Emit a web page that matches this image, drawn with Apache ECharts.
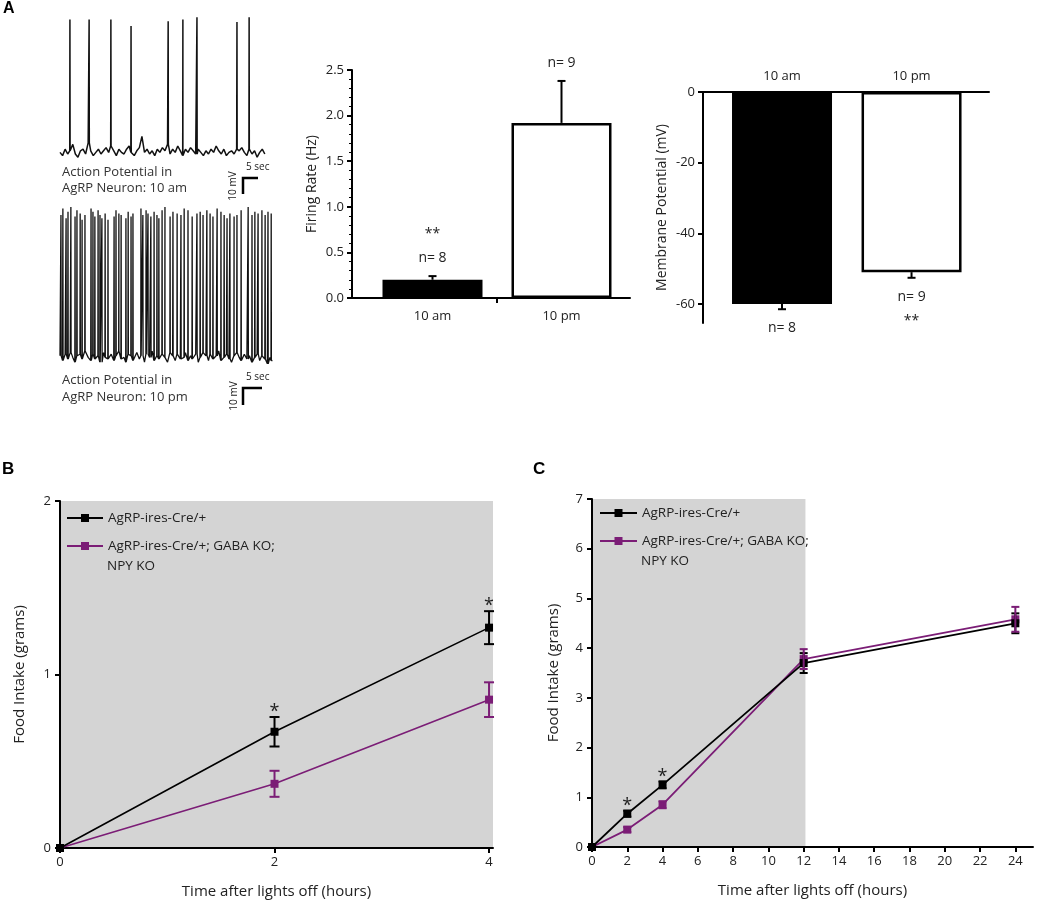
<!DOCTYPE html>
<html><head><meta charset="utf-8">
<script src="https://cdn.jsdelivr.net/npm/echarts@6/dist/echarts.min.js"></script>
<style>html,body{margin:0;padding:0;background:#fff}#c{width:1050px;height:904px}</style>
</head><body><div id="c"></div>
<script>
// ---------- DATA ----------
// Panel A traces (time in s, membrane potential in mV)
const traceStep = 0.8;
const topBase = [
-59,-61,-57,-60,-58,-54,-60,-62,-58,-57,
-60,-53,-58,-61,-59,-57,-60,-58,-56,-59,
-55,-58,-61,-57,-59,-60,-57,-55,-59,-61,
-58,-56,-49,-59,-57,-60,-58,-61,-57,-59,
-56,-58,-54,-60,-57,-59,-55,-58,-61,-57,
-59,-56,-58,-60,-57,-59,-61,-58,-60,-57,
-59,-55,-58,-60,-57,-61,-59,-58,-60,-57,
-58,-56,-59,-61,-57,-60,-58,-62,-59,-57,
-60];
const topSpikeT = [3.1, 9.1, 15.9, 22.2, 33.8, 38.4, 42.8, 55.3, 59.1];
const topSpikePk = [24, 24, 24, 20, 23, 24, 25.5, 22.5, 25.5];
const botBase = [
-58,-61,-57,-60,-56,-59,-62,-58,-57,-60,
-55,-59,-61,-57,-60,-58,-62,-56,-59,-60,
-57,-61,-58,-55,-60,-59,-62,-57,-58,-61,
-56,-60,-58,-62,-57,-59,-55,-61,-58,-60,
-57,-59,-62,-56,-58,-61,-57,-60,-59,-56,
-61,-58,-60,-57,-62,-59,-56,-58,-61,-57,
-60,-58,-55,-61,-59,-57,-60,-62,-58,-56,
-59,-61,-57,-60,-58,-62,-59,-57,-61,-58,
-60,-63,-59,-61];
const botSpikeT = [
0.3,0.9,1.9,2.5,3.4,4.7,5.3,6.3,6.9,7.8,
9.7,10.3,10.9,11.9,12.5,13.1,14.1,15.0,
16.9,17.5,18.4,19.1,20.6,21.3,22.2,22.8,
25.3,25.9,26.9,27.5,28.4,29.4,30.3,30.9,31.9,32.8,
34.4,35.3,36.6,37.8,38.8,40.0,41.3,42.8,43.8,44.7,
45.9,46.9,47.8,49.1,50.3,51.3,52.2,53.1,54.4,55.3,56.6,
58.8,60.0,60.9,61.9,63.1,64.1,65.0,66.0];
const botSpikePk = [
30,34,28,32,35,29,33,31,27,30,
34,32,29,33,30,28,31,27,
29,33,31,30,28,32,29,31,
34,30,33,31,29,32,30,28,33,35,
29,32,31,30,34,33,29,31,32,30,
33,31,29,34,32,30,28,31,29,30,33,
35,30,32,31,33,30,32,31];

// Panel A bar charts
const barCats = ['10 am', '10 pm'];
const firingVals = [0.2, 1.92];
const firingErr = [0.04, 0.46];
const firingNotes = ['**\nn= 8', 'n= 9'];
const memVals = [-60, -51];
const memErr = [1.5, 1.6];
const memNotes = ['n= 8', 'n= 9\n**'];
const memTicks = [0, -20, -40, -60];

// Panel B
const nameCtrl = 'AgRP-ires-Cre/+';
const nameKO = 'AgRP-ires-Cre/+; GABA KO;';
const nameKO2 = 'NPY KO';
const hoursB = [0, 2, 4];
const ctrlB = [0, 0.67, 1.27];
const ctrlBErr = [0, 0.085, 0.095];
const koB = [0, 0.37, 0.855];
const koBErr = [0, 0.075, 0.1];
const starsB = ['', '*', '*'];
const xTicksB = [0, 2, 4];

// Panel C
const hoursC = [0, 2, 4, 12, 24];
const ctrlC = [0, 0.67, 1.25, 3.7, 4.5];
const ctrlCErr = [0, 0.06, 0.07, 0.2, 0.2];
const koC = [0, 0.35, 0.85, 3.78, 4.58];
const koCErr = [0, 0.05, 0.07, 0.2, 0.25];
const starsC = ['', '*', '*', '', ''];
const xTicksC = [0, 2, 4, 6, 8, 10, 12, 14, 16, 18, 20, 22, 24];
const lightsOffEnd = 12.1;

// ---------- BUILD ----------
const FONT = 'Open Sans';
const TXT = '#222';
const PURPLE = '#7b1d76';

function buildTrace(base, spikes, peaks) {
  const pts = base.map((v, i) => [i * traceStep, v]);
  spikes.forEach((t, k) => {
    const b = base[Math.min(base.length - 1, Math.round(t / traceStep))];
    pts.push([t - 0.06, b], [t, peaks[k]], [t + 0.06, b]);
  });
  pts.sort((a, b) => a[0] - b[0]);
  return pts;
}

function makeErr(color, mode, capHalf, notes, note) {
  return function (params, api) {
    const x = api.value(0), y = api.value(1), e = api.value(2);
    const lo = mode === 'up' ? y : y - e;
    const hi = mode === 'down' ? y : y + e;
    const pLo = api.coord([x, lo]), pHi = api.coord([x, hi]);
    const ch = [];
    if (e > 0) {
      ch.push({type: 'line', shape: {x1: pLo[0], y1: pLo[1], x2: pHi[0], y2: pHi[1]}, style: {stroke: color, lineWidth: 2}});
      if (mode !== 'down') ch.push({type: 'line', shape: {x1: pHi[0] - capHalf, y1: pHi[1], x2: pHi[0] + capHalf, y2: pHi[1]}, style: {stroke: color, lineWidth: 2}});
      if (mode !== 'up') ch.push({type: 'line', shape: {x1: pLo[0] - capHalf, y1: pLo[1], x2: pLo[0] + capHalf, y2: pLo[1]}, style: {stroke: color, lineWidth: 2}});
    }
    const t = notes && notes[params.dataIndex];
    if (t) {
      const below = mode === 'down';
      ch.push({type: 'text', style: {
        text: t, x: pHi[0], y: below ? pLo[1] + note.gap : pHi[1] - note.gap,
        align: 'center', verticalAlign: below ? 'top' : 'bottom',
        fontSize: note.size, lineHeight: note.lh, fontFamily: FONT, fill: TXT
      }});
    }
    return {type: 'group', children: ch};
  };
}

const axisLineBlk = {show: true, onZero: false, lineStyle: {color: '#000', width: 2}};
const tickBlk = {show: true, length: 5, lineStyle: {color: '#000', width: 2}};
const lblStyle = {color: TXT, fontSize: 13, fontFamily: FONT};

const option = {
  animation: false,
  textStyle: {fontFamily: FONT},
  grid: [
    {left: 60, top: 10, width: 205, height: 160},
    {left: 60, top: 195, width: 212, height: 180},
    {left: 352, top: 70, width: 278, height: 228},
    {left: 703, top: 92, width: 286, height: 231},
    {left: 60, top: 501, width: 433, height: 347, show: true, backgroundColor: '#d4d4d4', borderWidth: 0},
    {left: 592, top: 499, width: 441, height: 348}
  ],
  xAxis: [
    {gridIndex: 0, type: 'value', min: 0, max: 64.06, show: false},
    {gridIndex: 1, type: 'value', min: 0, max: 66.25, show: false},
    {gridIndex: 2, type: 'value', min: -0.624, max: 1.531, splitLine: {show: false},
      axisLine: axisLineBlk, axisTick: {show: true, length: 5, customValues: [0.5], lineStyle: {color: '#000', width: 2}},
      axisLabel: Object.assign({customValues: [0, 1], margin: 12, formatter: v => barCats[Math.round(v)]}, lblStyle)},
    {gridIndex: 3, type: 'value', position: 'top', min: -0.61, max: 1.598, splitLine: {show: false},
      axisLine: axisLineBlk, axisTick: {show: false},
      axisLabel: Object.assign({customValues: [0, 1], margin: 9, formatter: v => barCats[Math.round(v)]}, lblStyle)},
    {gridIndex: 4, type: 'value', min: 0, max: 4.037, splitLine: {show: false},
      axisLine: axisLineBlk, axisTick: Object.assign({customValues: xTicksB}, tickBlk),
      axisLabel: Object.assign({customValues: xTicksB, margin: 8}, lblStyle),
      name: 'Time after lights off (hours)', nameLocation: 'middle', nameGap: 36,
      nameTextStyle: {fontSize: 15, color: TXT, fontFamily: FONT}},
    {gridIndex: 5, type: 'value', min: 0, max: 25, splitLine: {show: false},
      axisLine: axisLineBlk, axisTick: Object.assign({customValues: xTicksC}, tickBlk),
      axisLabel: Object.assign({customValues: xTicksC, margin: 8}, lblStyle),
      name: 'Time after lights off (hours)', nameLocation: 'middle', nameGap: 36,
      nameTextStyle: {fontSize: 15, color: TXT, fontFamily: FONT}}
  ],
  yAxis: [
    {gridIndex: 0, type: 'value', min: -70, max: 30, show: false},
    {gridIndex: 1, type: 'value', min: -70, max: 42.5, show: false},
    {gridIndex: 2, type: 'value', min: 0, max: 2.5, interval: 0.5, splitLine: {show: false},
      axisLine: axisLineBlk, axisTick: tickBlk,
      minorTick: {show: true, splitNumber: 5, length: 3, lineStyle: {color: '#000', width: 1}},
      axisLabel: Object.assign({margin: 8, formatter: v => v.toFixed(1)}, lblStyle),
      name: 'Firing Rate (Hz)', nameLocation: 'middle', nameGap: 33, nameRotate: 90,
      nameTextStyle: {fontSize: 14, color: TXT, fontFamily: FONT}},
    {gridIndex: 3, type: 'value', min: -65.4, max: 0, splitLine: {show: false},
      axisLine: axisLineBlk, axisTick: Object.assign({customValues: memTicks}, tickBlk),
      axisLabel: Object.assign({customValues: memTicks, margin: 8}, lblStyle),
      name: 'Membrane Potential (mV)', nameLocation: 'middle', nameGap: 34, nameRotate: 90,
      nameTextStyle: {fontSize: 14, color: TXT, fontFamily: FONT}},
    {gridIndex: 4, type: 'value', min: 0, max: 2, interval: 1, splitLine: {show: false},
      axisLine: axisLineBlk, axisTick: tickBlk,
      axisLabel: Object.assign({margin: 9}, lblStyle),
      name: 'Food Intake (grams)', nameLocation: 'middle', nameGap: 33, nameRotate: 90,
      nameTextStyle: {fontSize: 15, color: TXT, fontFamily: FONT}},
    {gridIndex: 5, type: 'value', min: 0, max: 7, interval: 1, splitLine: {show: false},
      axisLine: axisLineBlk, axisTick: tickBlk,
      axisLabel: Object.assign({margin: 9}, lblStyle),
      name: 'Food Intake (grams)', nameLocation: 'middle', nameGap: 31, nameRotate: 90,
      nameTextStyle: {fontSize: 15, color: TXT, fontFamily: FONT}}
  ],
  legend: [
    {data: [nameCtrl, nameKO], orient: 'vertical', left: 66, top: 511, padding: 0, itemWidth: 36, itemHeight: 10, itemGap: 14,
      textStyle: {fontSize: 13.5, color: TXT, fontFamily: FONT}, selectedMode: false},
    {data: [nameCtrl, nameKO], orient: 'vertical', left: 599, top: 506, padding: 0, itemWidth: 37, itemHeight: 10, itemGap: 14,
      textStyle: {fontSize: 13.5, color: TXT, fontFamily: FONT}, selectedMode: false}
  ],
  graphic: [
    {type: 'text', z: 100, left: 3, top: 1, style: {text: 'A', font: 'bold 16px "Liberation Sans"', fill: '#000'}},
    {type: 'text', z: 100, left: 2, top: 461, style: {text: 'B', font: 'bold 17px "Liberation Sans"', fill: '#000'}},
    {type: 'text', z: 100, left: 533, top: 461, style: {text: 'C', font: 'bold 17px "Liberation Sans"', fill: '#000'}},
    {type: 'text', z: 100, x: 62, y: 172, style: {text: 'Action Potential in', fontSize: 13, fontFamily: FONT, fill: '#333', verticalAlign: 'middle'}},
    {type: 'text', z: 100, x: 62, y: 188, style: {text: 'AgRP Neuron: 10 am', fontSize: 13, fontFamily: FONT, fill: '#333', verticalAlign: 'middle'}},
    {type: 'text', z: 100, x: 62, y: 380, style: {text: 'Action Potential in', fontSize: 13, fontFamily: FONT, fill: '#333', verticalAlign: 'middle'}},
    {type: 'text', z: 100, x: 62, y: 397, style: {text: 'AgRP Neuron: 10 pm', fontSize: 13, fontFamily: FONT, fill: '#333', verticalAlign: 'middle'}},
    {type: 'polyline', z: 100, shape: {points: [[258, 178], [243, 178], [243, 194]]}, style: {stroke: '#000', lineWidth: 2.5, fill: null}},
    {type: 'text', z: 100, x: 246, y: 167, style: {text: '5 sec', fontSize: 10, fontFamily: FONT, fill: '#222', verticalAlign: 'middle'}},
    {type: 'text', z: 100, x: 233, y: 186, rotation: Math.PI / 2, style: {text: '10 mV', fontSize: 10, fontFamily: FONT, fill: '#222', align: 'center', verticalAlign: 'middle'}},
    {type: 'polyline', z: 100, shape: {points: [[262, 388], [243, 388], [243, 405]]}, style: {stroke: '#000', lineWidth: 2.5, fill: null}},
    {type: 'text', z: 100, x: 246, y: 377, style: {text: '5 sec', fontSize: 10, fontFamily: FONT, fill: '#222', verticalAlign: 'middle'}},
    {type: 'text', z: 100, x: 234, y: 396, rotation: Math.PI / 2, style: {text: '10 mV', fontSize: 10, fontFamily: FONT, fill: '#222', align: 'center', verticalAlign: 'middle'}},
    {type: 'text', z: 100, x: 107, y: 566, style: {text: nameKO2, fontSize: 13.5, fontFamily: FONT, fill: TXT, verticalAlign: 'middle'}},
    {type: 'text', z: 100, x: 641, y: 561, style: {text: nameKO2, fontSize: 13.5, fontFamily: FONT, fill: TXT, verticalAlign: 'middle'}}
  ],
  series: [
    {type: 'line', xAxisIndex: 0, yAxisIndex: 0, data: buildTrace(topBase, topSpikeT, topSpikePk),
      showSymbol: false, lineStyle: {color: '#111', width: 1.5}, silent: true},
    {type: 'line', xAxisIndex: 1, yAxisIndex: 1, data: buildTrace(botBase, botSpikeT, botSpikePk),
      showSymbol: false, lineStyle: {color: '#111', width: 1.3}, silent: true},
    {type: 'bar', xAxisIndex: 2, yAxisIndex: 2, barWidth: 100, silent: true,
      data: firingVals.map((v, i) => ({value: [i, v], itemStyle: i === 0 ? {color: '#000'} : {color: '#fff', borderColor: '#000', borderWidth: 2.5}}))},
    {type: 'custom', xAxisIndex: 2, yAxisIndex: 2, silent: true,
      renderItem: makeErr('#000', 'up', 4, firingNotes, {gap: 6, size: 14, lh: 24}),
      data: firingVals.map((v, i) => [i, v, firingErr[i]]), z: 5},
    {type: 'bar', xAxisIndex: 3, yAxisIndex: 3, barWidth: 100, silent: true,
      data: memVals.map((v, i) => ({value: [i, v], itemStyle: i === 0 ? {color: '#000'} : {color: '#fff', borderColor: '#000', borderWidth: 2.5}}))},
    {type: 'custom', xAxisIndex: 3, yAxisIndex: 3, silent: true,
      renderItem: makeErr('#000', 'down', 4, memNotes, {gap: 7, size: 14, lh: 24}),
      data: memVals.map((v, i) => [i, v, memErr[i]]), z: 5},
    {type: 'line', name: nameCtrl, xAxisIndex: 4, yAxisIndex: 4, data: hoursB.map((h, i) => [h, ctrlB[i]]),
      symbol: 'rect', symbolSize: 8, itemStyle: {color: '#000'}, lineStyle: {color: '#000', width: 1.6}, z: 4},
    {type: 'line', name: nameKO, xAxisIndex: 4, yAxisIndex: 4, data: hoursB.map((h, i) => [h, koB[i]]),
      symbol: 'rect', symbolSize: 8, itemStyle: {color: PURPLE}, lineStyle: {color: PURPLE, width: 1.6}, z: 3},
    {type: 'custom', xAxisIndex: 4, yAxisIndex: 4, silent: true, z: 5,
      renderItem: makeErr('#000', 'both', 5, starsB, {gap: -4, size: 18, lh: 18}),
      data: hoursB.map((h, i) => [h, ctrlB[i], ctrlBErr[i]])},
    {type: 'custom', xAxisIndex: 4, yAxisIndex: 4, silent: true, z: 5,
      renderItem: makeErr(PURPLE, 'both', 5, null, null),
      data: hoursB.map((h, i) => [h, koB[i], koBErr[i]])},
    {type: 'line', name: nameCtrl, xAxisIndex: 5, yAxisIndex: 5, data: hoursC.map((h, i) => [h, ctrlC[i]]),
      symbol: 'rect', symbolSize: 8, itemStyle: {color: '#000'}, lineStyle: {color: '#000', width: 1.8}, z: 4,
      markArea: {silent: true, itemStyle: {color: '#d4d4d4'}, data: [[{xAxis: 0}, {xAxis: lightsOffEnd}]], z: 0}},
    {type: 'line', name: nameKO, xAxisIndex: 5, yAxisIndex: 5, data: hoursC.map((h, i) => [h, koC[i]]),
      symbol: 'rect', symbolSize: 8, itemStyle: {color: PURPLE}, lineStyle: {color: PURPLE, width: 1.8}, z: 3},
    {type: 'custom', xAxisIndex: 5, yAxisIndex: 5, silent: true, z: 5,
      renderItem: makeErr('#000', 'both', 4, starsC, {gap: -4, size: 18, lh: 18}),
      data: hoursC.map((h, i) => [h, ctrlC[i], ctrlCErr[i]])},
    {type: 'custom', xAxisIndex: 5, yAxisIndex: 5, silent: true, z: 5,
      renderItem: makeErr(PURPLE, 'both', 4, null, null),
      data: hoursC.map((h, i) => [h, koC[i], koCErr[i]])}
  ]
};

const chart = echarts.init(document.getElementById('c'), null, {renderer: 'canvas'});
chart.setOption(option);
</script></body></html>
